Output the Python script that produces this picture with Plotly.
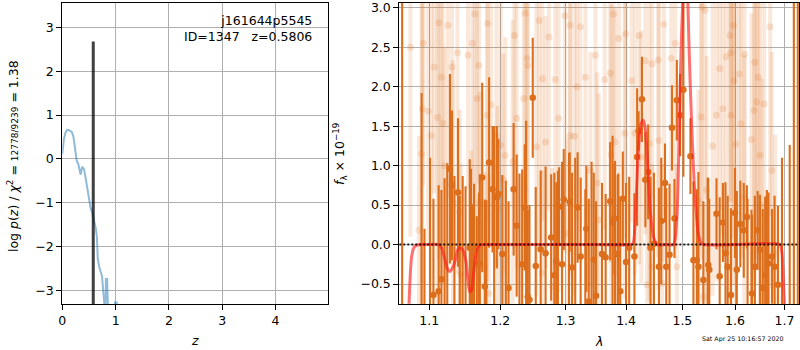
import plotly.graph_objects as go
import math

# ---------------- left panel: log p(z) ----------------
z_grid = [0.0, 0.03, 0.06, 0.09, 0.12, 0.15, 0.18, 0.21, 0.24, 0.27, 0.30, 0.33, 0.345,
          0.36, 0.375, 0.39, 0.41, 0.44, 0.47, 0.50, 0.53, 0.56, 0.60, 0.63, 0.65, 0.665,
          0.69, 0.72, 0.745, 0.76, 0.78, 0.795, 0.812, 0.818, 0.84, 0.846, 0.87, 0.92,
          0.975, 0.988, 1.02, 1.035, 1.10, 1.3, 1.6, 2.0, 3.0, 4.0, 5.0]
log_pz = [0.11, 0.45, 0.60, 0.66, 0.66, 0.63, 0.61, 0.50, 0.25, -0.04, -0.12, -0.25, -0.36,
          -0.25, -0.19, -0.20, -0.25, -0.45, -0.70, -0.95, -1.12, -1.22, -1.40, -1.60, -1.80,
          -2.28, -2.45, -2.55, -2.68, -2.90, -3.10, -3.40, -3.40, -2.74, -2.74, -3.50, -3.9,
          -4.2, -3.6, -3.28, -3.28, -3.6, -4.5, -5.5, -6.5, -7.5, -9.0, -10.0, -11.0]
z_best = 0.5806
z_best_top = 2.68

# ---------------- right panel: spectrum ----------------
# binned spectrum (dark points)
lam_bin = [1.064, 1.0897, 1.0935, 1.101, 1.1056, 1.1127, 1.1165, 1.1208, 1.1245, 1.1282,
           1.131, 1.1344, 1.1394, 1.1419, 1.1459, 1.150, 1.1559, 1.1577, 1.1606, 1.162,
           1.1659, 1.169, 1.1703, 1.1737, 1.1775, 1.1797, 1.1837, 1.1887, 1.191, 1.1949,
           1.1972, 1.203, 1.2082, 1.2122, 1.2198, 1.2243, 1.2285, 1.2326, 1.2365, 1.2386,
           1.2411, 1.2437, 1.2487, 1.2533, 1.2609, 1.2685, 1.2772, 1.2822, 1.2852, 1.2878,
           1.2898, 1.2944, 1.297, 1.3055, 1.3066, 1.3104, 1.3154, 1.3193, 1.3242, 1.3318,
           1.3335, 1.3374, 1.342, 1.3456, 1.3494, 1.3593, 1.3654, 1.373, 1.377, 1.3802,
           1.3812, 1.3857, 1.3868, 1.3901, 1.3944, 1.400, 1.4054, 1.4144, 1.4191, 1.4216,
           1.4275, 1.4335, 1.4384, 1.4425, 1.4486, 1.4576, 1.4617, 1.4684, 1.4707, 1.4766,
           1.481, 1.4856, 1.4899, 1.4959, 1.5019, 1.5149, 1.5205, 1.5268, 1.5298, 1.5391,
           1.5473, 1.5484, 1.5503, 1.5641, 1.5702, 1.5764, 1.5814, 1.5857, 1.592, 1.600,
           1.6035, 1.6104, 1.6172, 1.6234, 1.6248, 1.6326, 1.6338, 1.6394, 1.645, 1.6497,
           1.6553, 1.6602, 1.6637, 1.667, 1.6741, 1.6795, 1.6865, 1.6948, 1.7109, 1.7196,
           1.728]
flux_bin = [-1.5, -1.0, -0.9, -0.9, -0.64, -0.59, -0.44, -0.9, -0.8, 0.96,
            0.75, -0.8, 0.66, -0.85, -0.9, -0.9, -0.04, -0.04, -0.8, -0.03,
            -0.9, -0.24, -0.85, 0.85, -0.53, -0.9, 1.04, 0.70, -0.8, 0.60,
            0.64, -0.12, -0.85, -0.55, 0.70, 0.24, -0.9, -0.25, 0.47, -0.9,
            -0.66, -0.70, 1.86, -0.27, -0.06, -0.11, 0.09, -0.39, -0.21, -0.8,
            0.48, -0.25, 0.57, -0.8, 0.54, -0.29, -0.9, 0.47, -0.15, -0.9,
            0.20, -0.72, -0.9, -0.19, -0.65, -0.12, -0.16, 0.55, 0.28, 0.33,
            -0.8, -0.12, -0.9, -0.59, 0.58, -0.22, -0.04, -0.15, 1.11, 1.44,
            1.84, 0.82, 0.92, -0.04, 0.01, -0.28, 0.30, 0.78, -0.28, -0.13,
            1.48, 0.33, 1.83, 1.64, 1.96, 1.12, -0.20, -0.20, -0.28, -0.45,
            -0.9, -0.26, -0.32, 0.39, -0.40, 0.28, -0.11, -0.28, -0.64, 0.40,
            -0.32, 0.26, 0.18, 0.35, -0.9, -0.9, -0.62, -0.28, 0.18, -0.07,
            -0.55, -0.39, -0.85, -0.24, -0.15, -0.28, -0.51, -0.9, -0.9, -1.5,
            -1.5]
err_bin = [6.0, 2.92, 1.1, 2.0, 1.22, 1.34, 1.13, 1.74, 1.83, 1.2,
           0.95, 1.67, 0.94, 1.47, 1.77, 1.64, 1.12, 1.0, 1.31, 0.8,
           1.26, 0.9, 1.74, 1.2, 1.1, 1.46, 1.08, 0.80, 2.3, 0.90,
           0.7, 1.0, 1.66, 1.1, 0.84, 0.9, 1.8, 1.2, 0.8, 2.47,
           1.1, 1.2, 0.76, 1.0, 1.0, 1.1, 0.8, 1.3, 1.0, 1.74,
           0.5, 1.3, 0.64, 1.96, 0.63, 1.2, 2.0, 0.7, 1.0, 1.6,
           0.8, 1.3, 1.95, 1.1, 1.2, 0.9, 0.8, 0.75, 1.1, 0.7,
           1.86, 1.0, 1.8, 1.2, 0.6, 1.0, 0.9, 0.8, 0.87, 0.25,
           0.54, 0.6, 0.6, 0.9, 0.9, 1.0, 0.8, 0.5, 1.0, 0.9,
           0.54, 0.5, 0.51, 0.52, 1.1, 0.48, 1.0, 0.9, 1.2, 1.0,
           1.75, 1.1, 0.9, 0.45, 1.0, 0.5, 0.9, 0.9, 1.1, 0.57,
           1.0, 0.55, 0.6, 0.4, 1.48, 1.34, 1.0, 0.9, 0.5, 0.7,
           1.0, 1.0, 1.54, 0.9, 0.6, 0.9, 1.0, 2.0, 2.16, 6.0,
           6.0]

# individual low-weight pixels (faint points)
lam_pix = [1.0749, 1.0919, 1.1127, 1.1254, 1.1066, 1.1161, 1.131, 1.1386, 1.1535, 1.1597,
           1.163, 1.169, 1.1817, 1.1662, 1.1865, 1.1113, 1.1183, 1.0897, 1.0905, 1.0986,
           1.1028, 1.1207, 1.1418, 1.1324, 1.0861, 1.170, 1.1808, 1.1944, 1.2006, 1.2046,
           1.2209, 1.2244, 1.2411, 1.235, 1.2376, 1.2402, 1.2183, 1.2072, 1.1958, 1.177,
           1.1831, 1.1432, 1.1583, 1.2584, 1.2737, 1.2635, 1.2837, 1.2989, 1.3071, 1.3236,
           1.3181, 1.3318, 1.3483, 1.3638, 1.373, 1.3786, 1.3878, 1.3993, 1.4095, 1.4227,
           1.4335, 1.4455, 1.4563, 1.4665, 1.2543, 1.2685, 1.2889, 1.3075, 1.3143, 1.340,
           1.3511, 1.3746, 1.3812, 1.3977, 1.4155, 1.4263, 1.4406, 1.4575, 1.2635, 1.2787,
           1.3033, 1.3539, 1.4365, 1.4455, 1.4635, 1.4869, 1.4797, 1.5361, 1.5423, 1.5968,
           1.5901, 1.592, 1.5827, 1.6186, 1.6393, 1.6704, 1.5702, 1.5981, 1.6083, 1.6462,
           1.6429, 1.658, 1.6379, 1.5764, 1.5641, 1.5348, 1.592, 1.6118, 1.5566, 1.6014,
           1.6325, 1.6497, 1.6739, 1.5454, 1.5298, 1.6186, 1.6532, 1.4899, 1.6807, 1.5391]
flux_pix = [2.50, 2.55, 2.81, 2.78, 2.25, 2.12, 2.25, 2.43, 2.40, 2.55,
            2.92, 2.27, 2.80, 1.85, 1.77, 1.61, 1.54, 1.15, 1.72, 1.69,
            1.38, 1.00, 0.41, 0.54, 0.18, 0.54, 1.64, 1.38, 1.26, 0.82,
            2.65, 1.60, 2.27, 1.85, 2.93, 2.36, 1.05, 1.13, 0.46, -0.28,
            -0.62, -0.38, -0.41, 2.84, 2.63, 2.10, 2.09, 2.90, 2.78, 2.76,
            2.00, 2.12, 2.40, 2.09, 2.17, 2.92, 2.61, 2.67, 2.08, 2.65,
            2.33, 2.29, 2.34, 2.79, 1.24, 1.30, 1.60, 1.38, 1.37, 0.94,
            0.78, 1.14, 1.30, 1.41, 1.41, 1.11, 1.28, 1.32, -0.36, -0.53,
            0.14, 0.31, -0.51, -0.28, -0.49, 2.55, 2.36, 3.01, 2.97, 2.78,
            2.65, 2.43, 2.38, 2.41, 2.31, 2.76, 2.23, 2.08, 2.16, 2.12,
            1.81, 1.78, 1.70, 1.72, 1.64, 1.62, 1.64, 1.53, 1.25, 1.27,
            1.33, 1.13, 0.94, 0.69, 0.56, 0.60, 0.50, -0.28, -0.11, -0.66]
err_pix = [2.4, 1.8, 3.0, 2.2, 1.6, 2.6, 1.9, 2.8, 1.7, 2.3,
           3.2, 1.5, 2.5, 2.1, 1.8, 2.4, 1.6, 1.9, 2.2, 1.7,
           2.0, 1.5, 1.3, 1.8, 1.2, 1.4, 2.1, 1.7, 2.3, 1.6,
           2.7, 1.9, 2.2, 1.6, 3.1, 2.0, 1.8, 1.5, 1.3, 1.2,
           1.5, 1.4, 1.6, 2.9, 2.2, 1.8, 2.5, 3.0, 2.1, 2.6,
           1.7, 2.3, 2.8, 1.9, 2.4, 3.1, 2.0, 2.6, 1.8, 2.9,
           2.2, 1.7, 2.5, 3.0, 1.9, 1.6, 2.2, 1.8, 2.0, 1.5,
           1.4, 1.9, 1.7, 2.1, 1.8, 1.6, 2.0, 1.9, 1.3, 1.5,
           1.2, 1.6, 1.4, 1.3, 1.5, 2.6, 2.0, 3.0, 2.4, 2.7,
           2.1, 1.9, 2.5, 2.2, 2.8, 2.4, 1.8, 2.6, 2.0, 2.3,
           1.7, 2.2, 1.9, 1.6, 2.1, 1.8, 2.4, 1.7, 1.9, 2.2,
           1.6, 2.0, 1.5, 1.7, 1.4, 1.8, 1.6, 1.3, 1.5, 1.2]

# best-fit model
lam_model = [1.0730, 1.0765, 1.080, 1.084, 1.090, 1.100, 1.1127, 1.117, 1.1207, 1.1245,
             1.128, 1.1315, 1.135, 1.1385, 1.141, 1.1455, 1.1503, 1.1535, 1.156, 1.1585,
             1.1614, 1.166, 1.170, 1.175, 1.185, 1.25, 1.35, 1.405, 1.4115, 1.4171,
             1.4213, 1.4255, 1.430, 1.4335, 1.4384, 1.4425, 1.4486, 1.4545, 1.47, 1.4838,
             1.4899, 1.4941, 1.4976, 1.5007, 1.5055, 1.5101, 1.5125, 1.5162, 1.5205, 1.525,
             1.5298, 1.536, 1.60, 1.690, 1.6946, 1.698, 1.700, 1.703]
flux_model = [-0.75, -0.15, -0.03, -0.005, 0.0, 0.0, 0.0, -0.05, -0.17, -0.30,
              -0.34, -0.30, -0.22, -0.08, -0.04, -0.06, -0.20, -0.45, -0.60, -0.58,
              -0.36, -0.07, -0.01, 0.0, 0.0, 0.0, 0.0, 0.0, 0.01, 0.56,
              1.20, 1.52, 1.575, 1.45, 0.90, 0.40, 0.08, 0.0, 0.0, 0.0,
              0.35, 1.41, 2.46, 3.07, 3.80, 3.07, 2.46, 1.70, 0.98, 0.47,
              0.13, 0.01, 0.0, 0.0, -0.10, -0.50, -0.80, -2.0]

x_ticks_right = [1.1, 1.2, 1.3, 1.4, 1.5, 1.6, 1.7]
y_ticks_right = [-0.5, 0.0, 0.5, 1.0, 1.5, 2.0, 2.5, 3.0]
x_ticks_left = [0, 1, 2, 3, 4]
y_ticks_left = [-3, -2, -1, 0, 1, 2, 3]

FONT = "DejaVu Sans"
W, H = 800, 350
dark = "rgb(220,110,28)"
faint_bar = "rgba(222,112,28,0.16)"
faint_pt = "rgba(222,112,28,0.18)"

fig = go.Figure()

# left panel
fig.add_trace(go.Scatter(x=z_grid, y=log_pz, mode="lines", xaxis="x", yaxis="y",
                         line=dict(color="rgba(31,119,180,0.5)", width=2), showlegend=False))
fig.add_trace(go.Scatter(x=[z_best, z_best], y=[-20, z_best_top], mode="lines", xaxis="x", yaxis="y",
                         line=dict(color="rgba(0,0,0,0.75)", width=3), showlegend=False))

# right panel
fig.add_trace(go.Scatter(x=lam_pix, y=flux_pix, mode="markers", xaxis="x2", yaxis="y2",
                         marker=dict(color=faint_pt, size=7, line=dict(width=0)),
                         error_y=dict(type="data", array=err_pix, thickness=4, width=0,
                                      color=faint_bar),
                         showlegend=False))
fig.add_trace(go.Scatter(x=lam_bin, y=flux_bin, mode="markers", xaxis="x2", yaxis="y2",
                         marker=dict(color=dark, size=6.5, line=dict(width=0)),
                         error_y=dict(type="data", array=err_bin, thickness=2.1, width=0,
                                      color=dark),
                         showlegend=False))
fig.add_trace(go.Scatter(x=lam_model, y=flux_model, mode="lines", xaxis="x2", yaxis="y2",
                         line=dict(color="rgba(255,25,25,0.62)", width=3, shape="spline",
                                   smoothing=0.7),
                         showlegend=False))

fig.add_shape(type="line", xref="x2 domain", yref="y2", x0=0, x1=1, y0=0, y1=0,
              line=dict(color="rgba(0,0,0,0.85)", width=2, dash="2px,2px"), layer="above")

ydom = [1 - 304 / H, 1 - 2.5 / H]
axis_common = dict(showline=True, linecolor="black", linewidth=1, mirror=True,
                   ticks="outside", ticklen=5, tickwidth=1, tickcolor="black",
                   showgrid=True, gridcolor="#b0b0b0", gridwidth=1, zeroline=False,
                   automargin=False, tickfont=dict(family=FONT, size=12.5, color="black"))

fig.update_layout(
    width=W, height=H, margin=dict(l=0, r=0, t=0, b=0),
    template="none", paper_bgcolor="white", plot_bgcolor="white",
    font=dict(family=FONT, size=12.5, color="black"),
    xaxis=dict(domain=[62.3 / W, 328.3 / W], range=[0, 4.99], tickvals=x_ticks_left,
               anchor="y", **axis_common),
    yaxis=dict(domain=ydom, range=[-3.313, 3.571], tickvals=y_ticks_left,
               anchor="x", **axis_common),
    xaxis2=dict(domain=[399.3 / W, 799 / W], type="log",
                range=[math.log10(1.0603), math.log10(1.7305)],
                tickvals=x_ticks_right, ticktext=[f"{v:.1f}" for v in x_ticks_right],
                anchor="y2", **axis_common),
    yaxis2=dict(domain=ydom, range=[-0.753, 3.067], tickvals=y_ticks_right,
                tickformat=".1f", anchor="x2", **axis_common),
)

def px(xp, yp):
    return xp / W, 1 - yp / H

anns = []
x, y = px(314, 11)
anns.append(dict(x=x, y=y, xref="paper", yref="paper", xanchor="right", yanchor="top",
                 align="right", showarrow=False,
                 text="j161644p5545<br>ID=1347\u00a0\u00a0\u00a0z=0.5806",
                 font=dict(family=FONT, size=12.5, color="black")))
x, y = px(13, 156)
anns.append(dict(x=x, y=y, xref="paper", yref="paper", xanchor="center", yanchor="middle",
                 textangle=-90, showarrow=False,
                 text="log <i>p</i>(<i>z</i>) / <i>χ</i><sup>2</sup> = "
                      "<span style='font-size:9px'>12778/9239</span> = 1.38",
                 font=dict(family=FONT, size=12.5, color="black")))
x, y = px(340, 154)
anns.append(dict(x=x, y=y, xref="paper", yref="paper", xanchor="center", yanchor="middle",
                 textangle=-90, showarrow=False,
                 text="<i>f</i><sub>λ</sub> × 10<sup>−19</sup>",
                 font=dict(family=FONT, size=12.5, color="black")))
x, y = px(195, 340)
anns.append(dict(x=x, y=y, xref="paper", yref="paper", xanchor="center", yanchor="middle",
                 showarrow=False, text="<i>z</i>",
                 font=dict(family=FONT, size=12.5, color="black")))
x, y = px(599, 341)
anns.append(dict(x=x, y=y, xref="paper", yref="paper", xanchor="center", yanchor="middle",
                 showarrow=False, text="<i>λ</i>",
                 font=dict(family=FONT, size=12.5, color="black")))
x, y = px(743, 339)
anns.append(dict(x=x, y=y, xref="paper", yref="paper", xanchor="center", yanchor="middle",
                 showarrow=False, text="Sat Apr 25 10:16:57 2020",
                 font=dict(family=FONT, size=6.3, color="black")))
fig.update_layout(annotations=anns)

fig.write_html("out.html")
